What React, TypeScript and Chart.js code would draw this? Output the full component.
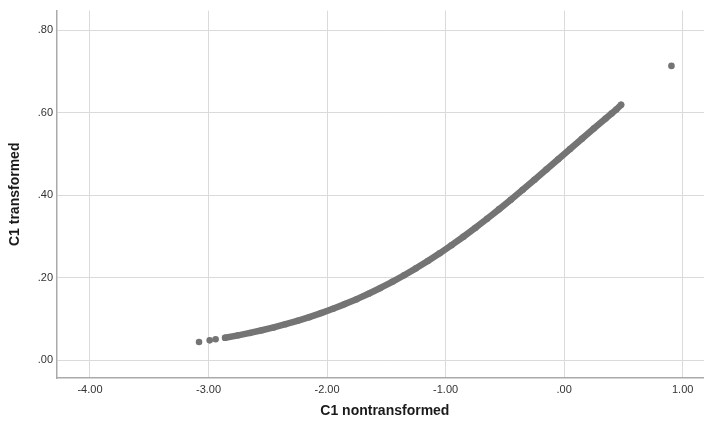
import React, { useEffect, useRef } from "react";
import { Chart, registerables } from "chart.js";

Chart.register(...registerables);

// Main band of cases: C1 nontransformed (x) against C1 transformed (y)
const curveX = [
  -2.86, -2.75, -2.65, -2.55, -2.45, -2.35, -2.25, -2.15, -2.05, -1.95,
  -1.85, -1.75, -1.65, -1.55, -1.45, -1.35, -1.25, -1.15, -1.05, -0.95,
  -0.85, -0.75, -0.65, -0.55, -0.45, -0.35, -0.25, -0.15, -0.05, 0.05,
  0.15, 0.25, 0.35, 0.4, 0.44, 0.48,
];
const curveY = [
  0.0542, 0.0601, 0.066, 0.0724, 0.0794, 0.0871, 0.0953, 0.1043, 0.1141, 0.1246,
  0.1359, 0.148, 0.1611, 0.1751, 0.19, 0.2059, 0.2227, 0.2405, 0.2592, 0.2789,
  0.2994, 0.3208, 0.343, 0.3659, 0.3894, 0.4134, 0.4378, 0.4626, 0.4875, 0.5125,
  0.5374, 0.5622, 0.5866, 0.5987, 0.6083, 0.6195,
];

// Isolated cases at both ends
const outlierX = [-3.08, -2.99, -2.94, 0.905];
const outlierY = [0.044, 0.048, 0.0506, 0.714];

const xTickValues = [-4, -3, -2, -1, 0, 1];
const xTickLabels = ["-4.00", "-3.00", "-2.00", "-1.00", ".00", "1.00"];
const yTickValues = [0, 0.2, 0.4, 0.6, 0.8];
const yTickLabels = [".00", ".20", ".40", ".60", ".80"];

const xTitle = "C1 nontransformed";
const yTitle = "C1 transformed";

const DOT = "#747474";
const GRID = "#dadada";
const AXIS = "#aaaaaa";
const TEXT = "#333333";
const FONT = "'Liberation Sans', Arial, sans-serif";

export default function App() {
  const canvasRef = useRef<HTMLCanvasElement | null>(null);

  useEffect(() => {
    const canvas = canvasRef.current;
    if (!canvas) return;

    const curve = curveX.map((x, i) => ({ x, y: curveY[i] }));
    const outliers = outlierX.map((x, i) => ({ x, y: outlierY[i] }));

    const chart = new Chart(canvas, {
      type: "scatter",
      data: {
        datasets: [
          {
            data: curve,
            showLine: true,
            borderColor: DOT,
            borderWidth: 6.5,
            borderCapStyle: "round",
            borderJoinStyle: "round",
            backgroundColor: DOT,
            pointRadius: 3.25,
            pointBorderWidth: 0,
            pointHoverRadius: 3.25,
          },
          {
            data: outliers,
            backgroundColor: DOT,
            borderColor: DOT,
            pointRadius: 3.3,
            pointBorderWidth: 0,
            pointHoverRadius: 3.3,
          },
        ],
      },
      options: {
        responsive: false,
        animation: false,
        devicePixelRatio: 1,
        layout: { padding: { top: 7, left: 0, right: 0, bottom: 0 } },
        plugins: {
          legend: { display: false },
          tooltip: { enabled: false },
        },
        scales: {
          x: {
            type: "linear",
            position: "bottom",
            min: -4.278,
            max: 1.253,
            afterBuildTicks: (axis: any) => {
              axis.ticks = xTickValues.map((value) => ({ value }));
            },
            afterFit: (axis: any) => {
              axis.height = 45;
            },
            ticks: {
              padding: 5,
              maxRotation: 0,
              autoSkip: false,
              color: TEXT,
              font: { family: FONT, size: 11 },
              callback: (_v: any, i: number) => xTickLabels[i],
            },
            grid: { color: GRID, lineWidth: 1, drawTicks: false },
            border: { display: true, color: AXIS, width: 1.5 },
            title: {
              display: true,
              text: xTitle,
              color: "#1a1a1a",
              font: { family: FONT, size: 14, weight: "bold" },
              padding: { top: 0, bottom: 3 },
            },
          },
          y: {
            type: "linear",
            position: "left",
            min: -0.0434,
            max: 0.8482,
            afterBuildTicks: (axis: any) => {
              axis.ticks = yTickValues.map((value) => ({ value }));
            },
            afterFit: (axis: any) => {
              axis.width = 57;
            },
            ticks: {
              padding: 4,
              autoSkip: false,
              color: TEXT,
              font: { family: FONT, size: 11 },
              callback: (_v: any, i: number) => yTickLabels[i],
            },
            grid: { color: GRID, lineWidth: 1, drawTicks: false },
            border: { display: true, color: AXIS, width: 1.5 },
            title: {
              display: true,
              text: yTitle,
              color: "#1a1a1a",
              font: { family: FONT, size: 14, weight: "bold" },
              padding: { top: 7, bottom: 0 },
            },
          },
        },
      },
    });

    return () => chart.destroy();
  }, []);

  return (
    <div
      style={{
        position: "fixed",
        left: 0,
        top: 0,
        width: 704,
        height: 423,
        overflow: "hidden",
        background: "#ffffff",
      }}
    >
      <canvas ref={canvasRef} width={716} height={423} style={{ display: "block" }} />
    </div>
  );
}
